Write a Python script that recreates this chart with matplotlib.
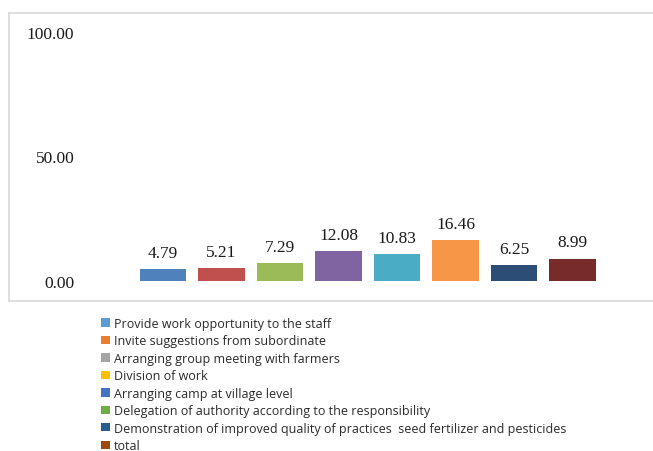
import matplotlib.pyplot as plt
from matplotlib.patches import Patch

# data
categories = [
    "Provide work opportunity to the staff",
    "Invite suggestions from subordinate",
    "Arranging group meeting with farmers",
    "Division of work",
    "Arranging camp at village level",
    "Delegation of authority according to the responsibility",
    "Demonstration of improved quality of practices  seed fertilizer and pesticides",
    "total",
]
values = [4.79, 5.21, 7.29, 12.08, 10.83, 16.46, 6.25, 8.99]
yticks = [0, 50, 100]
ytick_labels = ["0.00", "50.00", "100.00"]

bar_colors = ["#4F81BD", "#C0504D", "#9BBB59", "#8064A2",
              "#4BACC6", "#F79646", "#2C4D75", "#772C2A"]
legend_colors = ["#5B9BD5", "#ED7D31", "#A5A5A5", "#FFC000",
                 "#4472C4", "#70AD47", "#255E91", "#9E480E"]

W, H = 653, 452
fig = plt.figure(figsize=(W / 100, H / 100), dpi=100)

# axes box in pixels: left 9, top 14, bottom 302, right past the edge
left, top, bottom, right = 9, 14, 302, 662
ax = fig.add_axes([left / W, 1 - bottom / H, (right - left) / W, (bottom - top) / H])

x = list(range(len(values)))
ax.bar(x, values, width=0.79, color=bar_colors)

# y: 0 at px 282, 100 at px 33
upp = 100 / (282 - 33)
ax.set_ylim(0 - (bottom - 282) * upp, 100 + (33 - top) * upp)
# x: bar 0 centred at px 163, step 58.5 px
step = 58.5
ax.set_xlim(0 - (163 - left) / step, 0 + (right - 163) / step)

for xi, v in zip(x, values):
    ax.annotate(f"{v:.2f}", (xi, v), xytext=(0, 6), textcoords="offset points",
                ha="center", va="bottom", fontsize=12.5,
                family="Liberation Serif", color="#1a1a1a")

ax.set_yticks(yticks)
ax.set_yticklabels(ytick_labels, family="Liberation Serif", fontsize=12.5, color="#1a1a1a")
ax.tick_params(axis="y", length=0, pad=-47)
ax.set_xticks([])
for s in ax.spines.values():
    s.set_color("#D9D9D9")
    s.set_linewidth(1.2)
ax.spines["right"].set_visible(False)

handles = [Patch(facecolor=c, edgecolor="none") for c in legend_colors]
fig.legend(handles, categories, loc="upper left", bbox_to_anchor=(101 / W, 1 - 318 / H),
           frameon=False, prop={"family": "Open Sans", "size": 9},
           handlelength=0.7, handleheight=0.65, handletextpad=0.3,
           labelspacing=0.355, borderpad=0, borderaxespad=0, labelcolor="#2a2a2a")

fig.savefig("out.png", dpi=100)
